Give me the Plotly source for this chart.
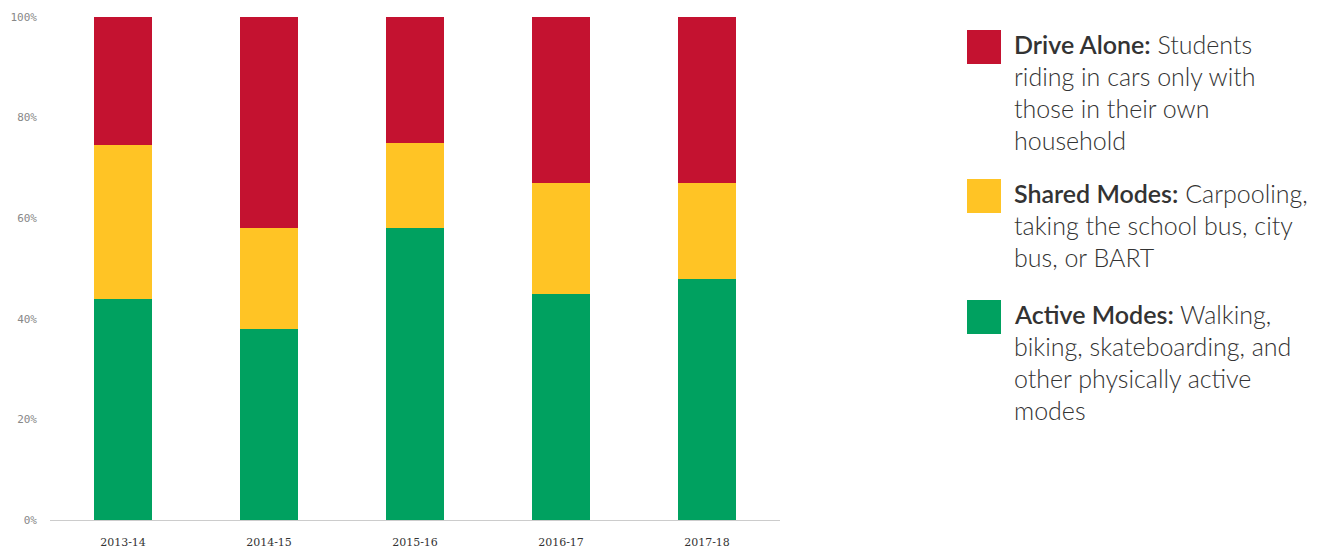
import plotly.graph_objects as go

years = ["2013-14", "2014-15", "2015-16", "2016-17", "2017-18"]
active = [44, 38, 58, 45, 48]
shared = [30.6, 20, 17, 22, 19]
drive = [25.4, 42, 25, 33, 33]

series_names = ["Active Modes", "Shared Modes", "Drive Alone"]
series_colors = ["#00A160", "#FFC425", "#C41230"]
y_ticks = [0, 20, 40, 60, 80, 100]
y_tick_text = ["0%", "20%", "40%", "60%", "80%", "100%"]

legend_entries = [
    ("Drive Alone:", ["Students", "riding in cars only with", "those in their own", "household"], "#C41230"),
    ("Shared Modes:", ["Carpooling,", "taking the school bus, city", "bus, or BART"], "#FFC425"),
    ("Active Modes:", ["Walking,", "biking, skateboarding, and", "other physically active", "modes"], "#00A160"),
]

OFF = 8  # page body margin
W, H = 1319 - 2 * OFF, 548 - OFF
L, R, T, B = 50 - OFF, 780 - OFF, 17 - OFF, 520 - OFF

fig = go.Figure()
for name, vals, col in zip(series_names, [active, shared, drive], series_colors):
    fig.add_trace(go.Bar(x=years, y=vals, name=name, marker=dict(color=col, line=dict(width=0)),
                         showlegend=False))

def px_x(p):
    return (p - OFF - L) / (R - L)

def px_y(p):
    return (B - (p - OFF)) / (B - T)

shapes = []
annotations = []
square_tops = [30, 179, 300]
line_h = 32
for (bold, lines, col), top in zip(legend_entries, square_tops):
    shapes.append(dict(type="rect", xref="paper", yref="paper",
                       x0=px_x(967), x1=px_x(1001), y0=px_y(top + 34), y1=px_y(top),
                       fillcolor=col, line=dict(width=0)))
    first_y = top + 14
    for i, ln in enumerate(lines):
        txt = f'<span style="font-weight:600">{bold}</span> {ln}' if i == 0 else ln
        annotations.append(dict(xref="paper", yref="paper", x=px_x(1012), y=px_y(first_y + i * line_h),
                                xanchor="left", yanchor="middle", showarrow=False, text=txt,
                                font=dict(family="Lato", size=25, color="#333333", weight=300)))

fig.update_layout(
    width=W, height=H,
    margin=dict(l=L, r=W - R, t=T, b=H - B, autoexpand=False),
    barmode="stack", bargap=0.6,
    plot_bgcolor="white", paper_bgcolor="white",
    xaxis=dict(showline=True, linecolor="#cccccc", linewidth=1, showgrid=False, ticks="",
               automargin=False, ticklabelstandoff=12,
               tickfont=dict(family="DejaVu Serif", size=11, color="#333333")),
    yaxis=dict(range=[0, 100], tickvals=y_ticks, ticktext=y_tick_text, showgrid=False,
               zeroline=False, showline=False, ticks="", automargin=False, ticklabelstandoff=12,
               tickfont=dict(family="DejaVu Sans Mono", size=11, color="#888888")),
    shapes=shapes, annotations=annotations,
)

fig.write_html("out.html")
